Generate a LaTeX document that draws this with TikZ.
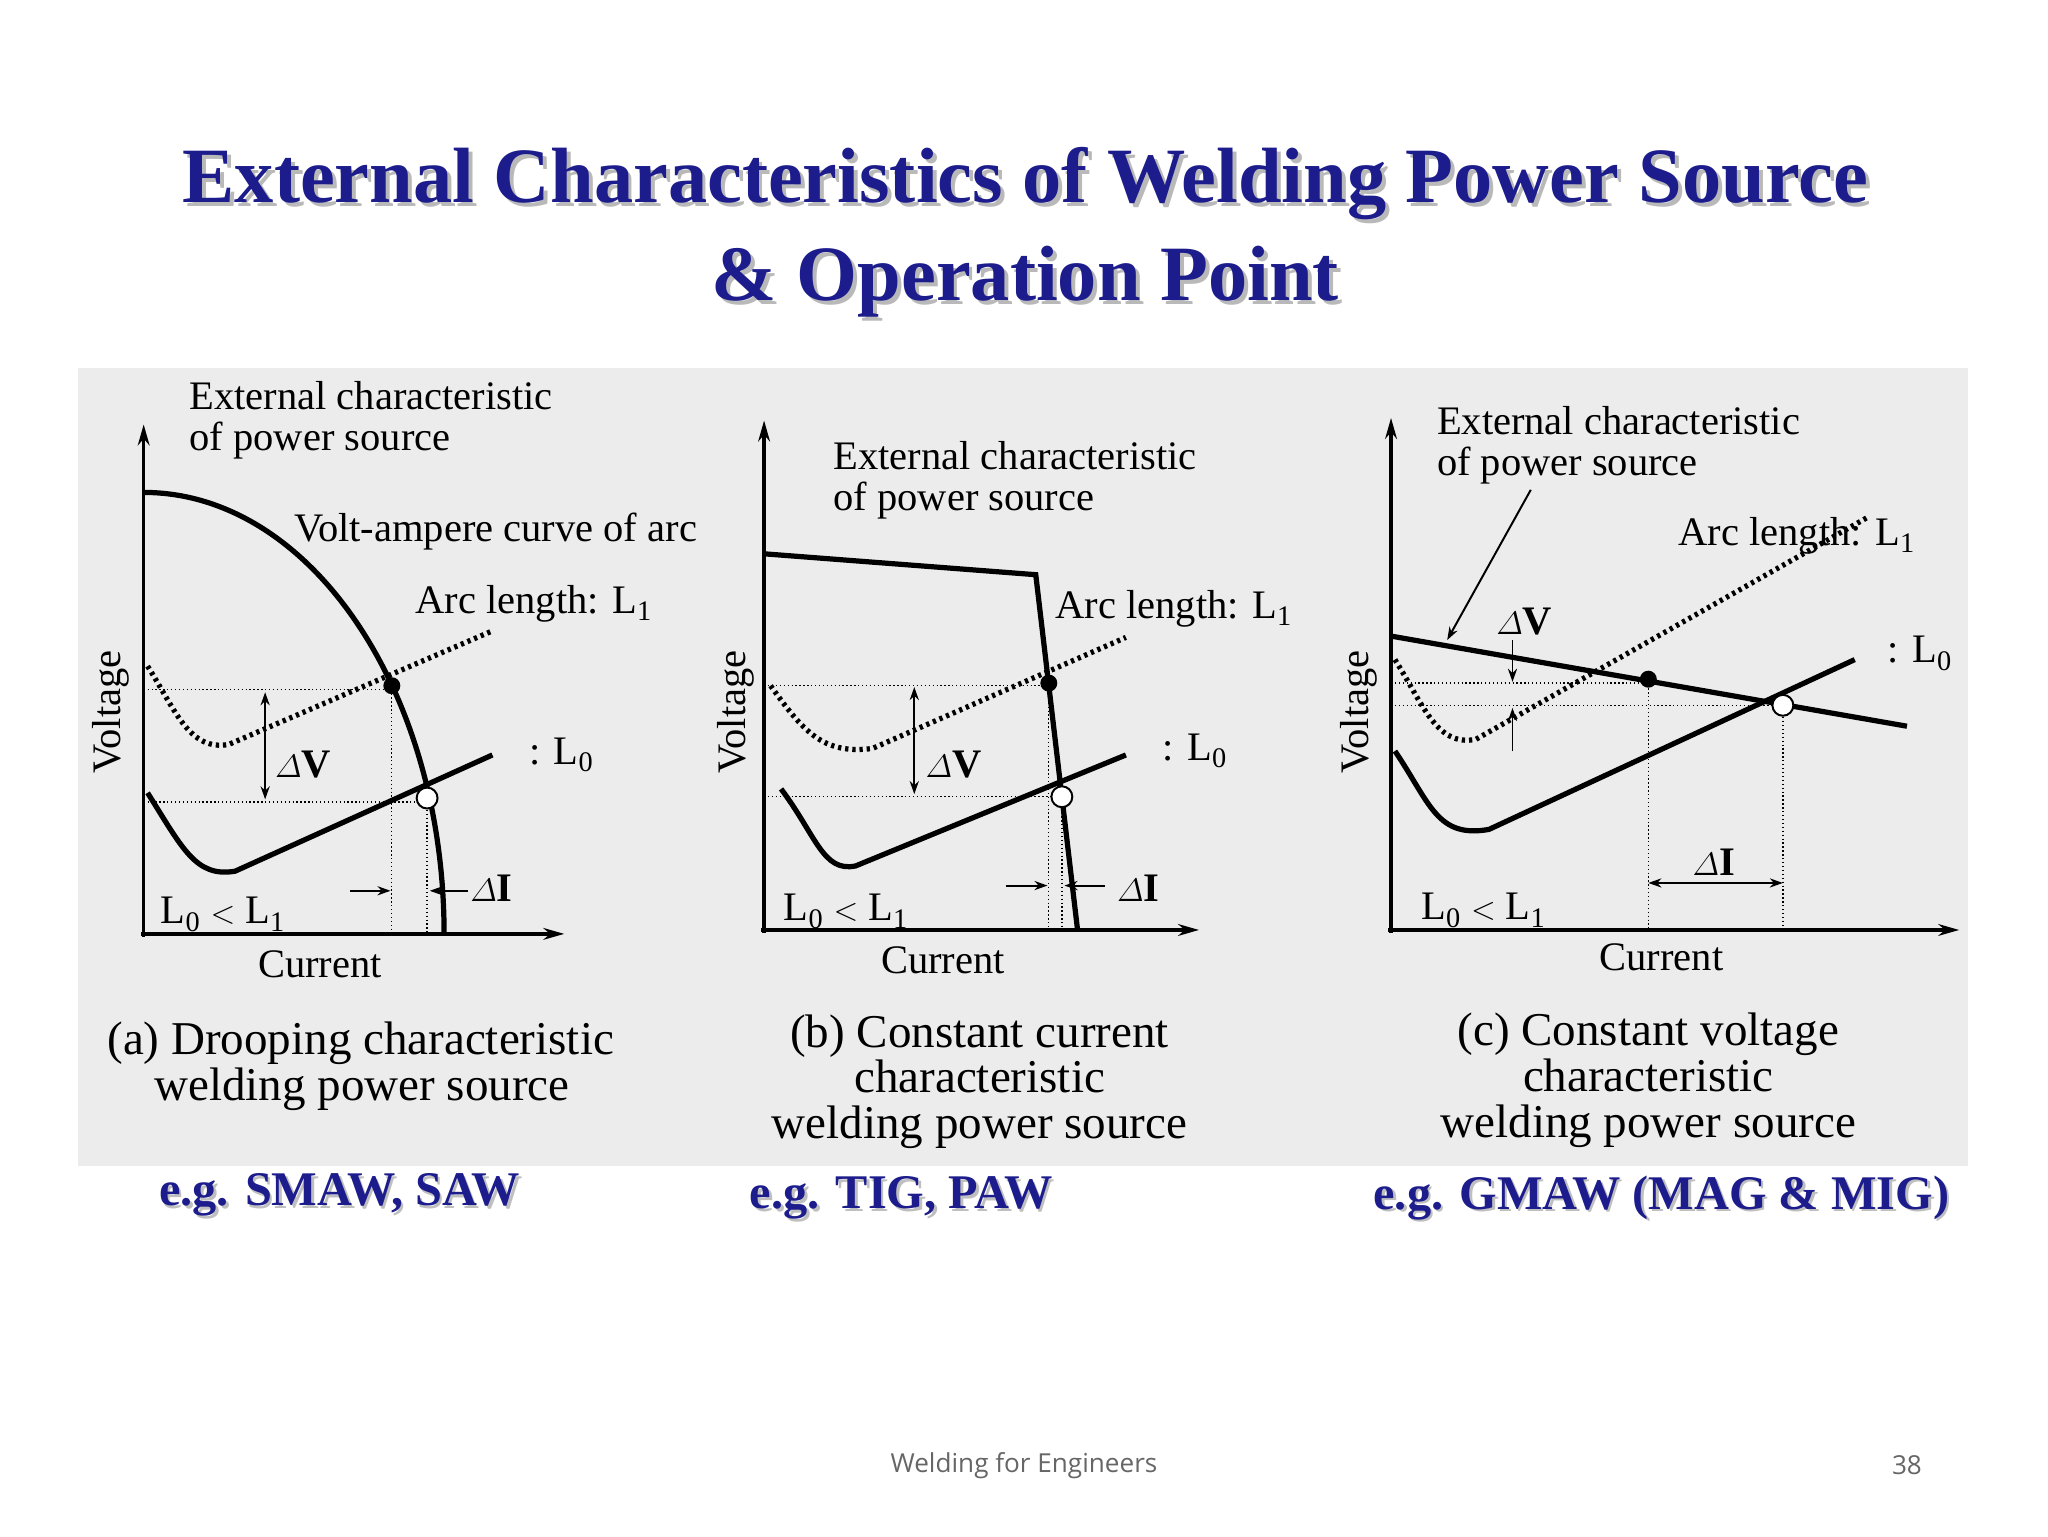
\documentclass[tikz,border=0pt]{standalone}
\usepackage{amsmath}
\usepackage{fontspec}
\setmainfont{Liberation Serif}
\newfontfamily\footfont{Open Sans}
\usetikzlibrary{arrows.meta}
\definecolor{ttl}{RGB}{28,28,140}
\definecolor{panel}{RGB}{236,236,236}
\tikzset{
 x=1pt,y=-1pt,
 axis/.style={line width=2.5pt,-{Stealth[length=16pt,width=9pt]}},
 curve/.style={line width=4pt},
 dotc/.style={line width=4pt,dash pattern=on 2.5pt off 3pt},
 guide/.style={line width=1pt,dotted},
 lab/.style={font=\fontsize{31}{31}\selectfont,inner sep=0pt},
 captxt/.style={font=\fontsize{36}{35}\selectfont,inner sep=0pt,align=center},
 dar/.style={line width=1.5pt,{Stealth[length=10pt,width=7pt]}-{Stealth[length=10pt,width=7pt]}},
 sar/.style={line width=1.5pt,-{Stealth[length=10pt,width=7pt]}},
 fdot/.style={circle,fill=black,minimum size=13pt,inner sep=0pt},
 odot/.style={circle,draw,line width=1.5pt,fill=white,minimum size=16pt,inner sep=0pt},
 eg/.style={font=\fontsize{37}{36}\selectfont\bfseries,inner sep=0pt},
 ttlst/.style={font=\fontsize{60}{75}\selectfont\bfseries,align=center,inner sep=0pt}
}
\begin{document}
\begin{tikzpicture}
\useasboundingbox (0,0) rectangle (1568,1176);
\fill[white] (0,0) rectangle (1568,1176);
\node[ttlst,text=gray!55] at (788,181) {External Characteristics of Welding Power Source\\\& Operation Point};
\node[ttlst,text=ttl] (title) at (785,178) {External Characteristics of Welding Power Source\\\& Operation Point};
\fill[panel] (60,282) rectangle (1507,893);

% ---------- (a)
\draw[axis] (110,717) -- (110,325);
\draw[axis] (108,715) -- (432,715);
\draw[curve] (110,377) arc[start angle=-90,end angle=0,x radius=230,y radius=338];
\draw[dotc] (113,510) .. controls (135,545) and (145,575) .. (175,570) -- (377,483);
\draw[curve] (113,607) .. controls (140,650) and (150,672) .. (180,667) -- (377,578);
\draw[guide] (110,528) -- (300,528) (300,528) -- (300,715);
\draw[guide] (110,614) -- (327,614) (327,614) -- (327,715);
\node[fdot] (a1) at (300,525) {};
\node[odot] (a0) at (327,611) {};
\draw[dar] (203,530) -- (203,612);
\node[lab] at (232,585) {$\varDelta$\textbf{V}};
\draw[sar] (268,682) -- (299,682);
\draw[sar] (358,682) -- (329,682);
\node[lab,anchor=west] at (360,680) {$\varDelta$\textbf{I}};
\node[lab,anchor=north west,align=left] at (145,292) {External characteristic\\of power source};
\node[lab,anchor=west] at (225,407) {Volt-ampere curve of arc};
\node[lab,anchor=west] at (318,462) {Arc length: L\textsubscript{1}};
\node[lab,anchor=west] at (405,578) {: L\textsubscript{0}};
\node[lab,anchor=west] at (123,700) {L\textsubscript{0} $<$ L\textsubscript{1}};
\node[lab] at (245,738) {Current};
\node[lab,rotate=90] at (85,545) {Voltage};
\node[captxt,align=left,anchor=north west] at (82,782) {(a) Drooping characteristic\\\ \ \ \ welding power source};

% ---------- (b)
\draw[axis] (585,714) -- (585,322);
\draw[axis] (583,712) -- (918,712);
\draw[curve] (585,424) -- (793,440) -- (825,712);
\draw[dotc] (590,525) .. controls (615,560) and (630,578) .. (668,573) -- (862,488);
\draw[curve] (598,604) .. controls (625,640) and (630,668) .. (655,663) -- (862,578);
\draw[guide] (585,525) -- (803,525) -- (803,712);
\draw[guide] (585,610) -- (813,610) -- (813,712);
\node[fdot] (b1) at (803,523) {};
\node[odot] (b0) at (813,610) {};
\draw[dar] (700,526) -- (700,608);
\node[lab] at (730,585) {$\varDelta$\textbf{V}};
\draw[sar] (770,678) -- (802,678);
\draw[sar] (846,678) -- (815,678);
\node[lab,anchor=west] at (855,680) {$\varDelta$\textbf{I}};
\node[lab,anchor=north west,align=left] at (638,338) {External characteristic\\of power source};
\node[lab,anchor=west] at (808,466) {Arc length: L\textsubscript{1}};
\node[lab,anchor=west] at (890,575) {: L\textsubscript{0}};
\node[lab,anchor=west] at (600,698) {L\textsubscript{0} $<$ L\textsubscript{1}};
\node[lab] at (722,735) {Current};
\node[lab,rotate=90] at (563,545) {Voltage};
\node[captxt] at (750,828) {(b) Constant current\\characteristic\\welding power source};

% ---------- (c)
\draw[axis] (1065,714) -- (1065,320);
\draw[axis] (1063,712) -- (1500,712);
\draw[curve] (1065,487) -- (1460,556);
\draw[dotc] (1068,505) .. controls (1090,540) and (1100,572) .. (1130,566) -- (1430,396);
\draw[curve] (1068,575) .. controls (1095,615) and (1100,642) .. (1140,635) -- (1420,505);
\draw[guide] (1065,523) -- (1262,523) -- (1262,712);
\draw[guide] (1065,540) -- (1365,540) -- (1365,712);
\node[fdot] (c1) at (1262,520) {};
\node[odot] (c0) at (1365,540) {};
\draw[sar] (1158,490) -- (1158,522);
\draw[sar] (1158,575) -- (1158,542);
\node[lab] at (1167,476) {$\varDelta$\textbf{V}};
\draw[dar] (1262,676) -- (1365,676);
\node[lab] at (1312,660) {$\varDelta$\textbf{I}};
\draw[sar] (1172,375) -- (1108,490);
\node[lab,anchor=north west,align=left] at (1100,311) {External characteristic\\of power source};
\node[lab,anchor=west] at (1285,410) {Arc length: L\textsubscript{1}};
\node[lab,anchor=west] at (1445,500) {: L\textsubscript{0}};
\node[lab,anchor=west] at (1088,697) {L\textsubscript{0} $<$ L\textsubscript{1}};
\node[lab] at (1272,733) {Current};
\node[lab,rotate=90] at (1040,545) {Voltage};
\node[captxt] at (1262,827) {(c) Constant voltage\\characteristic\\welding power source};

% ---------- examples and footer
\node[eg,text=gray!50] at (262,917) {e.g. SMAW, SAW};
\node[eg,text=ttl] at (260,915) {e.g. SMAW, SAW};
\node[eg,text=gray!50] at (692,919) {e.g. TIG, PAW};
\node[eg,text=ttl] at (690,917) {e.g. TIG, PAW};
\node[eg,text=gray!50] at (1274,919) {e.g. GMAW (MAG \& MIG)};
\node[eg,text=ttl] at (1272,917) {e.g. GMAW (MAG \& MIG)};
\node[font=\footfont\fontsize{20}{22}\selectfont,text=gray!80!black] at (784,1122) {Welding for Engineers};
\node[font=\footfont\fontsize{20}{22}\selectfont,text=gray!80!black] at (1460,1122) {38};
\end{tikzpicture}
\end{document}
